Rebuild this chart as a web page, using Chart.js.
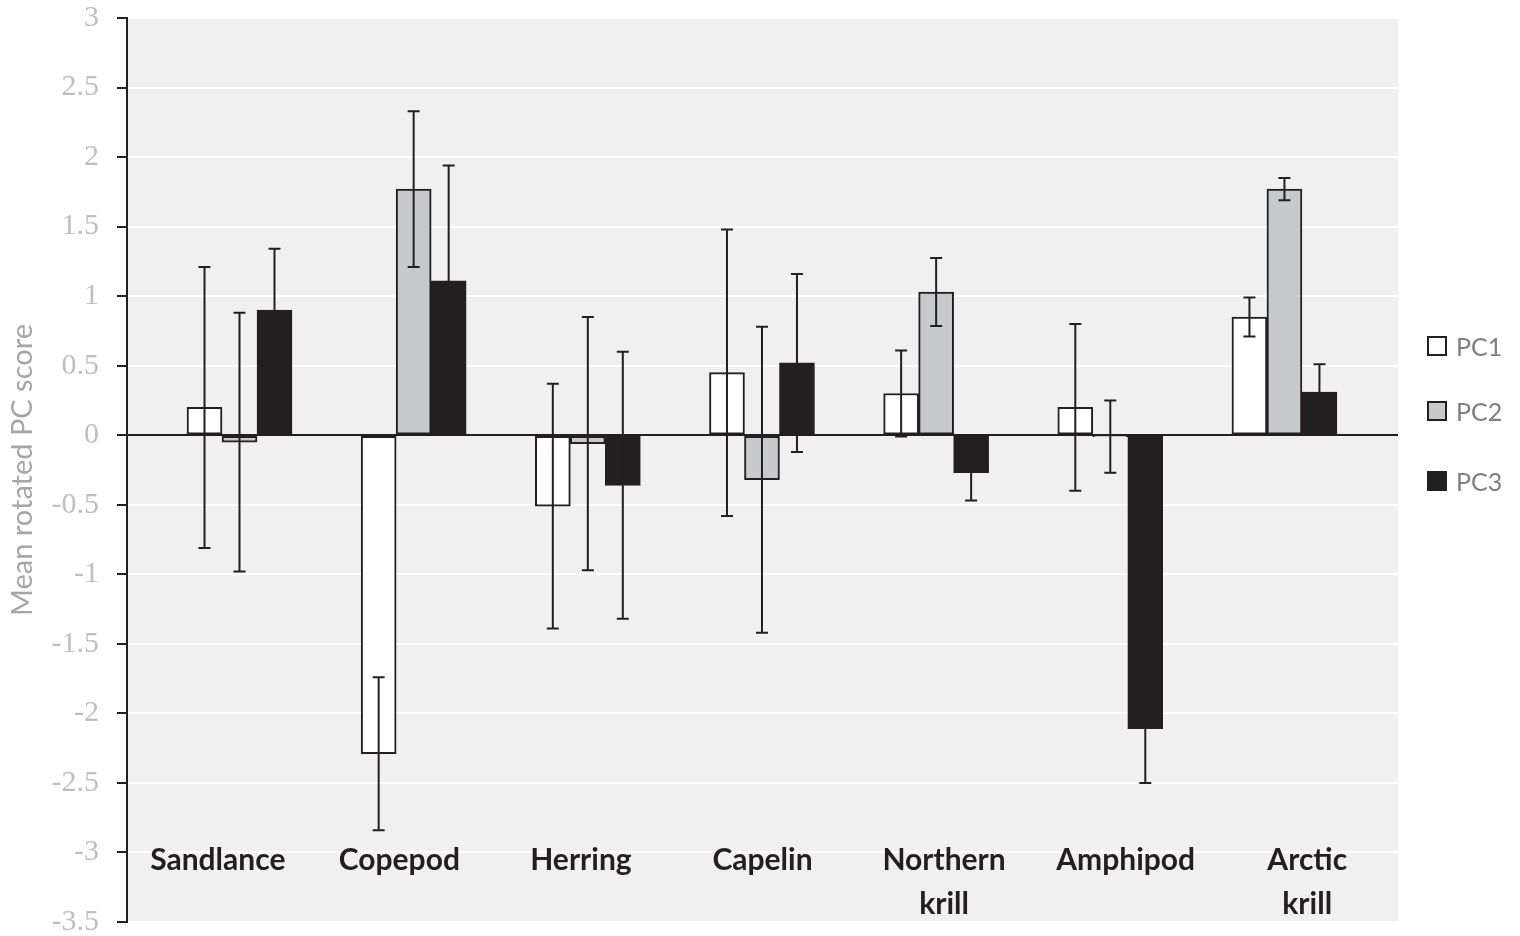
<!DOCTYPE html>
<html>
<head>
<meta charset="utf-8">
<script src="https://cdn.jsdelivr.net/npm/chart.js@4.4.1/dist/chart.umd.min.js"></script>
<style>
  html, body { margin: 0; padding: 0; background: #fff; }
  #wrap { position: relative; width: 1520px; height: 936px; }
  #legend { position: absolute; left: 1427px; top: 331px; font-family: Lato, sans-serif; font-size: 25px; color: #808080; }
  .item { position: absolute; left: 0; display: flex; align-items: center; white-space: nowrap; }
  .sw { width: 16px; height: 16px; border: 2px solid #231f20; margin-right: 9px; }
</style>
</head>
<body>
<div id="wrap">
  <canvas id="chart" width="1520" height="936"></canvas>
  <div id="legend"></div>
</div>
<script>
// ===== DATA =====
const categories = ['Sandlance', 'Copepod', 'Herring', 'Capelin', ['Northern', 'krill'], 'Amphipod', ['Arctic', 'krill']];
const seriesNames = ['PC1', 'PC2', 'PC3'];
const pc1 = [0.20, -2.29, -0.51, 0.45, 0.30, 0.20, 0.85];
const pc2 = [-0.05, 1.77, -0.06, -0.32, 1.03, -0.01, 1.77];
const pc3 = [0.90, 1.11, -0.36, 0.52, -0.27, -2.11, 0.31];
const pc1Err = [1.01, 0.55, 0.88, 1.03, 0.31, 0.60, 0.14];
const pc2Err = [0.93, 0.56, 0.91, 1.10, 0.245, 0.26, 0.08];
const pc3Err = [0.44, 0.83, 0.96, 0.64, 0.20, 0.39, 0.20];
const yTicks = [3, 2.5, 2, 1.5, 1, 0.5, 0, -0.5, -1, -1.5, -2, -2.5, -3, -3.5];

const INK = '#231f20';
const fills = ['#ffffff', '#c8c9cb', INK];
const errs = [pc1Err, pc2Err, pc3Err];

// Plot area background
const plotBg = {
  id: 'plotBg',
  beforeDraw(chart) {
    const { ctx, chartArea: a } = chart;
    ctx.save();
    ctx.fillStyle = '#f0f0f0';
    ctx.fillRect(a.left, a.top, a.right - a.left, a.bottom - a.top);
    ctx.restore();
  }
};

// Error bars with caps
const errorBars = {
  id: 'errorBars',
  afterDatasetsDraw(chart) {
    const { ctx } = chart;
    const y = chart.scales.y;
    ctx.save();
    ctx.strokeStyle = INK;
    ctx.lineWidth = 2;
    chart.data.datasets.forEach((ds, i) => {
      const meta = chart.getDatasetMeta(i);
      meta.data.forEach((bar, j) => {
        const v = ds.data[j].y, e = errs[i][j];
        const top = y.getPixelForValue(v + e), bot = y.getPixelForValue(v - e);
        ctx.beginPath();
        ctx.moveTo(bar.x, top); ctx.lineTo(bar.x, bot);
        ctx.moveTo(bar.x - 6, top); ctx.lineTo(bar.x + 6, top);
        ctx.moveTo(bar.x - 6, bot); ctx.lineTo(bar.x + 6, bot);
        ctx.stroke();
      });
    });
    ctx.restore();
  }
};

const series = [pc1, pc2, pc3];
const datasets = series.map((vals, i) => ({
  label: seriesNames[i],
  data: vals.map((v, j) => ({ x: j, y: v })),
  backgroundColor: fills[i],
  borderColor: INK,
  borderWidth: 2,
  borderSkipped: false,
  barThickness: 35,
  xAxisID: 'x'
}));

new Chart(document.getElementById('chart'), {
  type: 'bar',
  data: { datasets },
  options: {
    responsive: false,
    animation: false,
    layout: { padding: { top: 0, bottom: 0, right: 122, left: 0 } },
    plugins: { legend: { display: false }, tooltip: { enabled: false } },
    scales: {
      x: { type: 'linear', display: false, offset: false, min: -0.646, max: 6.652 },
      cats: {
        type: 'category',
        axis: 'x',
        labels: categories,
        offset: true,
        position: { y: -2.895 },
        grid: { display: false, drawTicks: false },
        border: { display: false },
        ticks: { color: INK, padding: 0, maxRotation: 0, autoSkip: false, font: { family: 'Lato', size: 30, weight: 'bold', lineHeight: 1.47 } }
      },
      y: {
        min: -3.5, max: 3,
        afterBuildTicks: s => { s.ticks = yTicks.map(v => ({ value: v })); },
        afterFit: s => { s.width = 127; s.paddingTop = 18; s.paddingBottom = 14; },
        border: { color: INK, width: 2 },
        grid: {
          color: c => c.tick && c.tick.value === 0 ? INK : '#ffffff',
          lineWidth: 2,
          tickColor: INK,
          tickLength: 10
        },
        ticks: {
          color: '#bfbfbf', padding: 18,
          callback: v => String(v),
          font: { family: "'Liberation Serif', serif", size: 30 }
        },
        title: { display: true, text: 'Mean rotated PC score', color: '#a6a6a6', padding: { top: 5, bottom: 0 }, font: { family: 'Lato', size: 29 } }
      }
    }
  },
  plugins: [plotBg, errorBars]
});

// Legend
const legend = document.getElementById('legend');
const legendTops = [0, 65, 135];
seriesNames.forEach((n, i) => {
  const d = document.createElement('div');
  d.className = 'item';
  d.style.top = legendTops[i] + 'px';
  d.innerHTML = `<span class="sw" style="background:${fills[i]}"></span><span>${n}</span>`;
  legend.appendChild(d);
});
</script>
</body>
</html>
